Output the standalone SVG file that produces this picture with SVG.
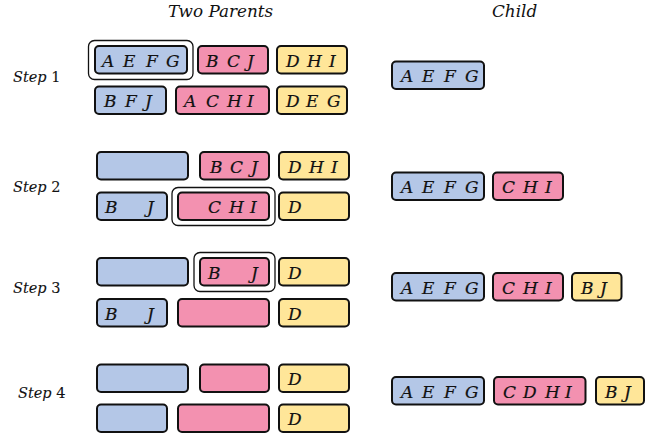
<svg xmlns="http://www.w3.org/2000/svg" width="656" height="439" viewBox="0 0 656 439">
<style>
.b{fill:#b4c7e7;stroke:#111;stroke-width:2}
.p{fill:#f391b0;stroke:#111;stroke-width:2}
.y{fill:#ffe699;stroke:#111;stroke-width:2}
.h{fill:#fff;stroke:#111;stroke-width:1.3}
text{font-family:"DejaVu Serif","Liberation Serif",serif;font-style:italic;fill:#111}
.t{font-size:17px;stroke:#111;stroke-width:0.2}
.hd{font-size:16.8px}
.st{font-size:14.5px;stroke:#111;stroke-width:0.1}
.n{font-style:normal}
</style>
<rect width="656" height="439" fill="#fff"/>
<g id="headers">
<text class="hd" x="168" y="17">Two Parents</text>
<text class="hd" x="492" y="17">Child</text>
</g>
<g id="labels">
<text class="st" x="13" y="81.5">Step <tspan class="n">1</tspan></text>
<text class="st" x="13" y="191.5">Step <tspan class="n">2</tspan></text>
<text class="st" x="13" y="293">Step <tspan class="n">3</tspan></text>
<text class="st" x="18" y="398">Step <tspan class="n">4</tspan></text>
</g>
<g id="highlights">
<rect class="h" x="88.5" y="40.5" width="104.5" height="39" rx="6"/>
<rect class="h" x="172" y="187.5" width="103" height="38" rx="6"/>
<rect class="h" x="194" y="252.5" width="81" height="39" rx="6"/>
</g>
<g id="step1">
<g id="s1-p1-blue"><rect class="b" x="95" y="46" width="92" height="27.5" rx="4"/><text class="t" x="102 123 146 166" y="66.5">AEFG</text></g>
<g id="s1-p1-pink"><rect class="p" x="198" y="46" width="70" height="27.5" rx="4"/><text class="t" x="206 227 247" y="66.5">BCJ</text></g>
<g id="s1-p1-yellow"><rect class="y" x="277" y="46" width="70" height="27.5" rx="4"/><text class="t" x="286 307 329" y="66.5">DHI</text></g>
<g id="s1-p2-blue"><rect class="b" x="95" y="86.5" width="71" height="27.5" rx="4"/><text class="t" x="104 125 145" y="107">BFJ</text></g>
<g id="s1-p2-pink"><rect class="p" x="176" y="86.5" width="93" height="27.5" rx="4"/><text class="t" x="184 206 227 247" y="107">ACHI</text></g>
<g id="s1-p2-yellow"><rect class="y" x="277" y="86.5" width="70" height="27.5" rx="4"/><text class="t" x="286 306 327" y="107">DEG</text></g>
</g>
<g id="step2">
<g id="s2-p1-blue"><rect class="b" x="97" y="152" width="91" height="27.5" rx="4"/></g>
<g id="s2-p1-pink"><rect class="p" x="200" y="152" width="69" height="27.5" rx="4"/><text class="t" x="210 230 251" y="172.5">BCJ</text></g>
<g id="s2-p1-yellow"><rect class="y" x="279" y="152" width="70" height="27.5" rx="4"/><text class="t" x="288 309 331" y="172.5">DHI</text></g>
<g id="s2-p2-blue"><rect class="b" x="97" y="192.5" width="70" height="27.5" rx="4"/><text class="t" x="105 147" y="213">BJ</text></g>
<g id="s2-p2-pink"><rect class="p" x="178" y="192.5" width="91" height="27.5" rx="4"/><text class="t" x="208 229 250" y="213">CHI</text></g>
<g id="s2-p2-yellow"><rect class="y" x="279" y="192.5" width="70" height="27.5" rx="4"/><text class="t" x="288" y="213">D</text></g>
</g>
<g id="step3">
<g id="s3-p1-blue"><rect class="b" x="97" y="258" width="91" height="27.5" rx="4"/></g>
<g id="s3-p1-pink"><rect class="p" x="200" y="258" width="69" height="27.5" rx="4"/><text class="t" x="208 251" y="278.5">BJ</text></g>
<g id="s3-p1-yellow"><rect class="y" x="279" y="258" width="70" height="27.5" rx="4"/><text class="t" x="288" y="278.5">D</text></g>
<g id="s3-p2-blue"><rect class="b" x="97" y="299" width="70" height="27.5" rx="4"/><text class="t" x="105 147" y="319.5">BJ</text></g>
<g id="s3-p2-pink"><rect class="p" x="178" y="299" width="91" height="27.5" rx="4"/></g>
<g id="s3-p2-yellow"><rect class="y" x="279" y="299" width="70" height="27.5" rx="4"/><text class="t" x="288" y="319.5">D</text></g>
</g>
<g id="step4">
<g id="s4-p1-blue"><rect class="b" x="97" y="364.5" width="91" height="27.5" rx="4"/></g>
<g id="s4-p1-pink"><rect class="p" x="200" y="364.5" width="69" height="27.5" rx="4"/></g>
<g id="s4-p1-yellow"><rect class="y" x="279" y="364.5" width="70" height="27.5" rx="4"/><text class="t" x="288" y="385">D</text></g>
<g id="s4-p2-blue"><rect class="b" x="97" y="404.5" width="70" height="27.5" rx="4"/></g>
<g id="s4-p2-pink"><rect class="p" x="178" y="404.5" width="91" height="27.5" rx="4"/></g>
<g id="s4-p2-yellow"><rect class="y" x="279" y="404.5" width="70" height="27.5" rx="4"/><text class="t" x="288" y="425">D</text></g>
</g>
<g id="child">
<g id="c1-blue"><rect class="b" x="392" y="61.5" width="92" height="27.5" rx="4"/><text class="t" x="401 422 444 465" y="82">AEFG</text></g>
<g id="c2-blue"><rect class="b" x="392" y="172.5" width="92" height="27.5" rx="4"/><text class="t" x="401 422 444 465" y="193">AEFG</text></g>
<g id="c2-pink"><rect class="p" x="493" y="172.5" width="70" height="27.5" rx="4"/><text class="t" x="502 523 545" y="193">CHI</text></g>
<g id="c3-blue"><rect class="b" x="392" y="273" width="92" height="27.5" rx="4"/><text class="t" x="401 422 444 465" y="293.5">AEFG</text></g>
<g id="c3-pink"><rect class="p" x="493" y="273" width="70" height="27.5" rx="4"/><text class="t" x="502 523 545" y="293.5">CHI</text></g>
<g id="c3-yellow"><rect class="y" x="572" y="273" width="49.5" height="27.5" rx="4"/><text class="t" x="581 600" y="293.5">BJ</text></g>
<g id="c4-blue"><rect class="b" x="392" y="377" width="92" height="27.5" rx="4"/><text class="t" x="401 422 444 465" y="397.5">AEFG</text></g>
<g id="c4-pink"><rect class="p" x="494" y="377" width="91.5" height="27.5" rx="4"/><text class="t" x="503 523 545 565" y="397.5">CDHI</text></g>
<g id="c4-yellow"><rect class="y" x="596" y="377" width="48" height="27.5" rx="4"/><text class="t" x="605 624" y="397.5">BJ</text></g>
</g>
</svg>
